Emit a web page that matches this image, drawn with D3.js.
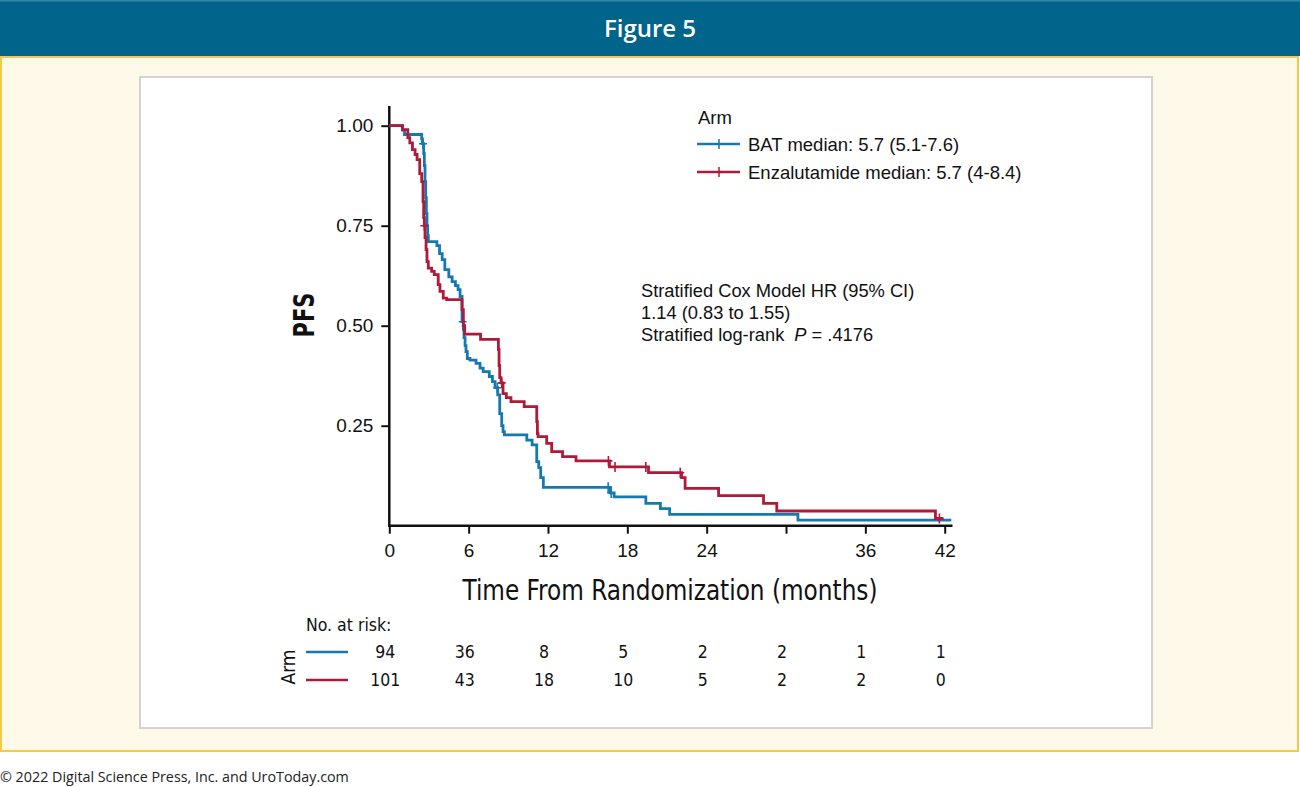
<!DOCTYPE html>
<html>
<head>
<meta charset="utf-8">
<script src="https://cdn.jsdelivr.net/npm/d3@7"></script>
<style>
  body { margin: 0; background: #fff; }
  svg { display: block; }
  .narrow { font-family: "Liberation Sans Narrow", "DejaVu Sans Condensed", "Liberation Sans", sans-serif; }
  .sans { font-family: "Liberation Sans", Arial, sans-serif; }
</style>
</head>
<body>
<div id="chart"></div>
<script>
// time axis and survival axis ticks
const timeTicks = [0, 6, 12, 18, 24, 30, 36, 42];
const timeLabels = ["0", "6", "12", "18", "24", "", "36", "42"];
const survTicks = [0.25, 0.5, 0.75, 1.0];

// Kaplan-Meier steps: [months, survival]
const batSteps = [
  [0, 1], [1.0, 0.989], [1.15, 0.978], [2.45, 0.967], [2.5, 0.955], [2.6, 0.93], [2.65, 0.9],
  [2.7, 0.86], [2.75, 0.82], [2.8, 0.78], [2.85, 0.75], [2.9, 0.725], [2.95, 0.71], [3.6, 0.70],
  [3.8, 0.68], [4.0, 0.665], [4.2, 0.64], [4.5, 0.622], [4.75, 0.61], [5.0, 0.60], [5.2, 0.59],
  [5.35, 0.573], [5.5, 0.51], [5.6, 0.49], [5.65, 0.47], [5.73, 0.45], [5.8, 0.435], [5.9, 0.418],
  [6.1, 0.414], [6.56, 0.406], [6.86, 0.394], [7.1, 0.385], [7.56, 0.373], [7.8, 0.36], [8.0, 0.345],
  [8.2, 0.327], [8.35, 0.28], [8.5, 0.25], [8.6, 0.235], [8.7, 0.227], [10.4, 0.214], [10.8, 0.202],
  [11.15, 0.16], [11.3, 0.145], [11.45, 0.12], [11.65, 0.096], [16.7, 0.082], [17.0, 0.072],
  [19.4, 0.056], [20.5, 0.0425], [21.2, 0.0285], [30.9, 0.014], [42.5, 0.014]
];
const enzSteps = [
  [0, 1], [1.0, 0.99], [1.4, 0.97], [1.55, 0.957], [1.75, 0.94], [1.95, 0.928], [2.1, 0.915],
  [2.3, 0.88], [2.45, 0.86], [2.55, 0.81], [2.6, 0.77], [2.65, 0.75], [2.7, 0.72], [2.78, 0.69],
  [2.85, 0.66], [2.95, 0.644], [3.2, 0.636], [3.4, 0.6275], [3.7, 0.6025], [3.83, 0.586],
  [4.08, 0.569], [4.34, 0.565], [5.5, 0.54], [5.6, 0.50], [5.7, 0.479], [6.9, 0.466], [8.25, 0.44],
  [8.3, 0.40], [8.35, 0.37], [8.45, 0.357], [8.6, 0.33], [8.85, 0.32], [9.2, 0.31], [10.2, 0.2975],
  [11.15, 0.26], [11.2, 0.23], [11.25, 0.2225], [11.9, 0.206], [12.28, 0.185], [13.1, 0.1725],
  [14.12, 0.162], [16.65, 0.147], [19.6, 0.1325], [22.1, 0.12], [22.37, 0.0935], [24.9, 0.075],
  [28.3, 0.056], [29.3, 0.0367], [41.3, 0.018], [41.9, 0.018]
];
// censoring times (months)
const batCensor = [2.55, 5.55, 8.17, 16.55, 16.78];
const enzCensor = [2.65, 8.5, 16.57, 17.07, 19.4, 22.0, 41.6];

// numbers at risk at each time tick
const batAtRisk = [94, 36, 8, 5, 2, 2, 1, 1];
const enzAtRisk = [101, 43, 18, 10, 5, 2, 2, 0];

const arms = [
  { name: "BAT median: 5.7 (5.1-7.6)", steps: batSteps, censor: batCensor, atRisk: batAtRisk, color: "#1479b0" },
  { name: "Enzalutamide median: 5.7 (4-8.4)", steps: enzSteps, censor: enzCensor, atRisk: enzAtRisk, color: "#b01a38" }
];

const W = 1300, H = 787;
const svg = d3.select("#chart").append("svg").attr("width", W).attr("height", H);

// page frame
svg.append("rect").attr("x", 0).attr("y", 0).attr("width", W).attr("height", 56).attr("fill", "#01648a");
svg.append("rect").attr("x", 0).attr("y", 0).attr("width", W).attr("height", 1.5).attr("fill", "#3a86a6");
svg.append("text").attr("x", 650).attr("y", 37).attr("text-anchor", "middle")
  .attr("fill", "#fff").style("font-family", "'Open Sans', sans-serif").style("font-weight", 600)
  .style("font-size", "24px").text("Figure 5");
svg.append("rect").attr("x", 1).attr("y", 57).attr("width", W - 3).attr("height", 694)
  .attr("fill", "#fff9ea").attr("stroke", "#f7c843").attr("stroke-width", 2);
svg.append("rect").attr("x", 140).attr("y", 77).attr("width", 1012).attr("height", 651)
  .attr("fill", "#fff").attr("stroke", "#d3d3d3").attr("stroke-width", 2);
svg.append("text").attr("x", 0).attr("y", 782)
  .style("font-family", "'Open Sans', sans-serif").style("font-size", "14.3px").attr("fill", "#222")
  .text("© 2022 Digital Science Press, Inc. and UroToday.com");

const x = d3.scaleLinear().domain([0, 42]).range([389.3, 944.7]);
const y = d3.scaleLinear().domain([0, 1]).range([525.7, 125.7]);

// axes
const yAxis = svg.append("g").attr("transform", `translate(${x(0)},0)`)
  .call(d3.axisLeft(y).tickValues(survTicks).tickFormat(d3.format(".2f")).tickSize(8).tickPadding(8));
const xAxis = svg.append("g").attr("transform", `translate(0,${y(0)})`)
  .call(d3.axisBottom(x).tickValues(timeTicks).tickFormat((d, i) => timeLabels[i]).tickSize(8).tickPadding(10));
[yAxis, xAxis].forEach(g => {
  g.select(".domain").remove();
  g.selectAll(".tick line").attr("stroke", "#111").attr("stroke-width", 2);
  g.selectAll(".tick text").attr("class", "sans").style("font-size", "19px").attr("fill", "#111");
});
svg.append("line").attr("x1", x(0)).attr("x2", x(0)).attr("y1", 106).attr("y2", y(0) + 1)
  .attr("stroke", "#111").attr("stroke-width", 2.5);
svg.append("line").attr("x1", x(0) - 1).attr("x2", 952.5).attr("y1", y(0)).attr("y2", y(0))
  .attr("stroke", "#111").attr("stroke-width", 2.5);

svg.append("text").attr("class", "narrow").attr("x", 670).attr("y", 600).attr("text-anchor", "middle")
  .attr("textLength", 415).attr("lengthAdjust", "spacingAndGlyphs")
  .style("font-size", "29px").attr("fill", "#111").text("Time From Randomization (months)");
svg.append("text").attr("class", "narrow").attr("transform", "translate(314,315) rotate(-90)")
  .attr("text-anchor", "middle").attr("textLength", 45).attr("lengthAdjust", "spacingAndGlyphs")
  .style("font-size", "28px").style("font-weight", 600).attr("fill", "#111").text("PFS");

// curves
const line = d3.line().x(d => x(d[0])).y(d => y(d[1])).curve(d3.curveStepAfter);
const survAt = (steps, t) => {
  let s = steps[0][1];
  for (const [tt, ss] of steps) { if (tt <= t) s = ss; }
  return s;
};

arms.forEach(arm => {
  svg.append("path").datum(arm.steps).attr("d", line)
    .attr("fill", "none").attr("stroke", arm.color).attr("stroke-width", 2.8);
  svg.append("g").selectAll("path").data(arm.censor).join("path")
    .attr("d", t => {
      const cx = x(t), cy = y(survAt(arm.steps, t));
      return `M${cx - 4},${cy}H${cx + 4}M${cx},${cy - 5}V${cy + 5}`;
    })
    .attr("stroke", arm.color).attr("stroke-width", 1.6);
});

// legend
svg.append("text").attr("class", "sans").attr("x", 698).attr("y", 124).style("font-size", "18.5px")
  .attr("fill", "#111").text("Arm");
arms.forEach((arm, i) => {
  const ly = 144 + i * 28;
  svg.append("line").attr("x1", 697).attr("x2", 740).attr("y1", ly).attr("y2", ly)
    .attr("stroke", arm.color).attr("stroke-width", 2.5);
  svg.append("line").attr("x1", 719).attr("x2", 719).attr("y1", ly - 5).attr("y2", ly + 5)
    .attr("stroke", arm.color).attr("stroke-width", 1.5);
  svg.append("text").attr("class", "sans").attr("x", 748).attr("y", ly + 7).style("font-size", "18.5px")
    .attr("fill", "#111").text(arm.name);
});

// annotation
const note = svg.append("text").attr("class", "sans").style("font-size", "18.3px").attr("fill", "#111");
note.append("tspan").attr("x", 641).attr("y", 297).text("Stratified Cox Model HR (95% CI)");
note.append("tspan").attr("x", 641).attr("y", 319).text("1.14 (0.83 to 1.55)");
const l3 = note.append("tspan").attr("x", 641).attr("y", 341);
l3.append("tspan").text("Stratified log-rank");
l3.append("tspan").attr("dx", 10).style("font-style", "italic").text("P");
l3.append("tspan").text(" = .4176");

// numbers at risk
svg.append("text").attr("class", "narrow").attr("x", 306).attr("y", 631).style("font-size", "17.5px")
  .attr("fill", "#111").text("No. at risk:");
svg.append("text").attr("class", "narrow").attr("transform", "translate(295,667) rotate(-90)")
  .attr("text-anchor", "middle").style("font-size", "19px").attr("fill", "#111").text("Arm");
arms.forEach((arm, i) => {
  const ry = 652 + i * 28;
  svg.append("line").attr("x1", 306).attr("x2", 348).attr("y1", ry).attr("y2", ry)
    .attr("stroke", arm.color).attr("stroke-width", 2.5);
  svg.append("g").selectAll("text").data(arm.atRisk).join("text")
    .attr("class", "narrow")
    .attr("x", (d, j) => x(timeTicks[j]) - 4).attr("y", ry + 6)
    .attr("text-anchor", "middle").style("font-size", "17.5px").attr("fill", "#111")
    .text(d => d);
});
</script>
</body>
</html>
